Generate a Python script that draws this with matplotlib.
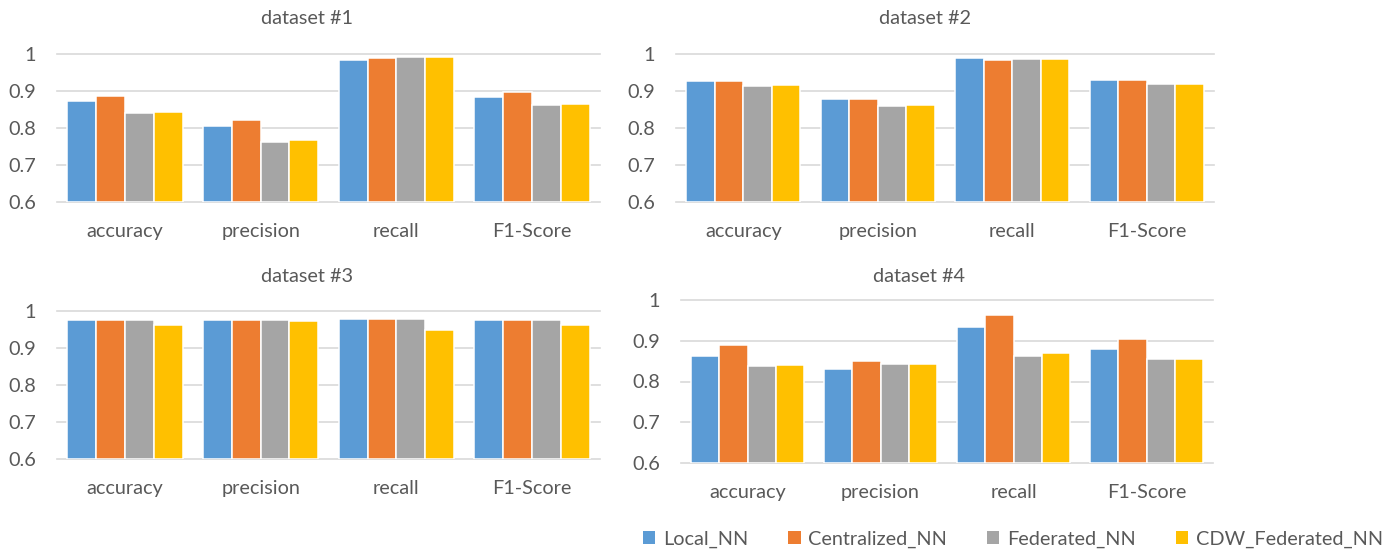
import matplotlib
matplotlib.use("Agg")
import matplotlib.pyplot as plt
from matplotlib.patches import Patch
import numpy as np

plt.rcParams['font.family'] = ['Lato', 'DejaVu Sans']

categories = ["accuracy", "precision", "recall", "F1-Score"]
series_names = ["Local_NN", "Centralized_NN", "Federated_NN", "CDW_Federated_NN"]
colors = ["#5B9BD5", "#ED7D31", "#A5A5A5", "#FFC000"]
titles = ["dataset #1", "dataset #2", "dataset #3", "dataset #4"]

# values[series] per metric (accuracy, precision, recall, F1-Score)
d1_local = [0.872, 0.806, 0.983, 0.885]
d1_central = [0.886, 0.821, 0.988, 0.896]
d1_fed = [0.840, 0.762, 0.991, 0.862]
d1_cdw = [0.843, 0.768, 0.991, 0.865]

d2_local = [0.927, 0.879, 0.988, 0.930]
d2_central = [0.927, 0.879, 0.983, 0.930]
d2_fed = [0.914, 0.860, 0.986, 0.919]
d2_cdw = [0.916, 0.863, 0.986, 0.919]

d3_local = [0.976, 0.976, 0.979, 0.976]
d3_central = [0.976, 0.976, 0.979, 0.976]
d3_fed = [0.976, 0.976, 0.979, 0.976]
d3_cdw = [0.962, 0.974, 0.948, 0.962]

d4_local = [0.862, 0.831, 0.933, 0.880]
d4_central = [0.890, 0.851, 0.963, 0.904]
d4_fed = [0.839, 0.844, 0.862, 0.854]
d4_cdw = [0.841, 0.844, 0.869, 0.856]

datasets = [
    [d1_local, d1_central, d1_fed, d1_cdw],
    [d2_local, d2_central, d2_fed, d2_cdw],
    [d3_local, d3_central, d3_fed, d3_cdw],
    [d4_local, d4_central, d4_fed, d4_cdw],
]
yticks = [0.6, 0.7, 0.8, 0.9, 1.0]
ytick_labels = ["0.6", "0.7", "0.8", "0.9", "1"]

W, H = 1386, 550
fig = plt.figure(figsize=(W / 100, H / 100), dpi=100)

def rect(x0, x1, ytop, ybot):
    return [x0 / W, 1 - ybot / H, (x1 - x0) / W, (ybot - ytop) / H]

rects = [rect(57, 600, 54, 202), rect(676, 1214, 54, 202),
         rect(57, 600, 311, 459), rect(681, 1213, 300, 463)]
title_pos = [(307, 18), (925, 18), (307, 276), (919, 276)]

text_color = "#595959"
grid_color = "#D9D9D9"
fs = 14.3
bw = 0.2125
x = np.arange(len(categories))

for k, (r, data) in enumerate(zip(rects, datasets)):
    ax = fig.add_axes(r)
    for i, (vals, c) in enumerate(zip(data, colors)):
        ax.bar(x + (i - 1.5) * bw, np.array(vals) - 0.6, bw, bottom=0.6,
               color=c, edgecolor="white", linewidth=1.1, zorder=3)
    ax.set_xlim(-0.5, 3.5)
    ax.set_ylim(0.6, 1.0)
    ax.set_yticks(yticks)
    ax.set_yticklabels(ytick_labels)
    ax.set_xticks(x)
    ax.set_xticklabels(categories)
    ax.tick_params(axis="both", length=0, labelsize=fs, labelcolor=text_color)
    ax.tick_params(axis="y", pad=15)
    ax.tick_params(axis="x", pad=15)
    for s in ax.spines.values():
        s.set_visible(False)
    ax.grid(axis="y", color=grid_color, linewidth=1.2, zorder=0)
    for gl in ax.get_ygridlines():
        gl.set_clip_on(False)
    ax.set_axisbelow(True)
    fig.text(title_pos[k][0] / W, 1 - title_pos[k][1] / H, titles[k],
             ha="center", va="center", fontsize=fs, color=text_color)

handles = [Patch(facecolor=c, edgecolor="none") for c in colors]
fig.legend(handles, series_names, loc="center left",
           bbox_to_anchor=(643 / W, 1 - 539 / H), ncol=4, frameon=False,
           fontsize=fs, labelcolor=text_color, handlelength=0.62,
           handleheight=0.62, handletextpad=0.4, columnspacing=2.0,
           borderaxespad=0, borderpad=0)

fig.savefig("out.png", dpi=100)
